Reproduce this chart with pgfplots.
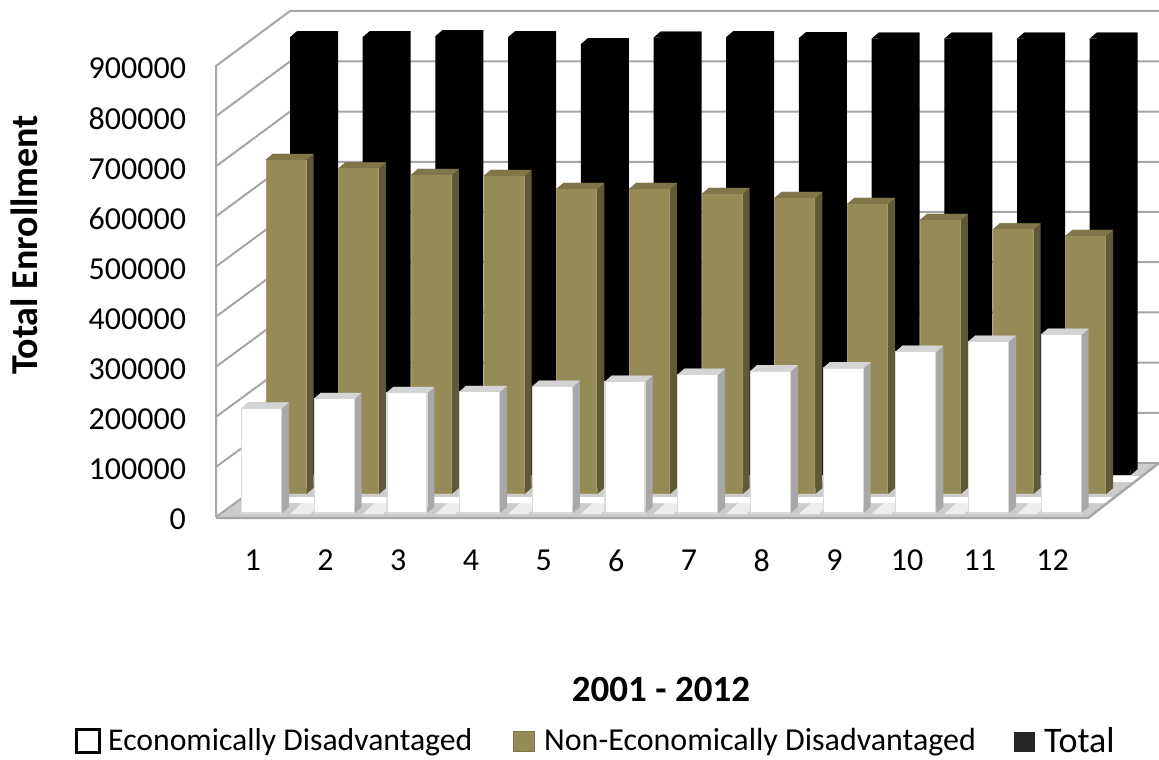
\documentclass[border=0pt]{standalone}
\usepackage{pgfplots}
\pgfplotsset{compat=1.18}
\usepackage{pgfplotstable}
\usepackage{fontspec}
\setmainfont{Carlito}
\definecolor{wallc}{HTML}{A6A6A6}
\definecolor{tanF}{HTML}{958B57}
\definecolor{tanL}{HTML}{A39A68}
\definecolor{tanS}{HTML}{5F5937}
\definecolor{tanT}{HTML}{7F774A}
\definecolor{whS}{HTML}{A8A8A8}
\definecolor{whT}{HTML}{D4D4D4}
\pgfdeclareplotmark{topface}{%
  \pgfpathmoveto{\pgfpoint{-20.5pt}{0pt}}%
  \pgfpathlineto{\pgfpoint{-13.5pt}{6pt}}%
  \pgfpathlineto{\pgfpoint{27.5pt}{6pt}}%
  \pgfpathlineto{\pgfpoint{20.5pt}{0pt}}%
  \pgfpathclose\pgfusepathqfill}
\pgfdeclareplotmark{baseface}{%
  \pgfpathmoveto{\pgfpoint{20.5pt}{0pt}}%
  \pgfpathlineto{\pgfpoint{27.5pt}{6pt}}%
  \pgfpathlineto{\pgfpoint{20.5pt}{6pt}}%
  \pgfpathclose\pgfusepathqfill}
\pgfplotstableread{
x y
1 209000
2 228000
3 240000
4 242000
5 252000
6 262000
7 276000
8 283000
9 289000
10 322000
11 342000
12 356000
}\econtab
\pgfplotstableread{
x y
1 667000
2 650000
3 637000
4 635000
5 609000
6 609000
7 599000
8 591000
9 579000
10 547000
11 528000
12 515000
}\nonecontab
\pgfplotstableread{
x y
1 874000
2 874000
3 876000
4 874000
5 860000
6 873000
7 874000
8 872000
9 871000
10 871000
11 871000
12 871000
}\totaltab
\pgfplotsset{
  barsaxis/.style={scale only axis,width=872.4pt,height=450.9pt,xmin=0.5,xmax=12.5,
    ymin=0,ymax=900000,axis line style={draw=none},tick style={draw=none},
    xtick=\empty,ytick=\empty,clip=false,anchor=south west},
}
\begin{document}
\begin{tikzpicture}[x=1pt,y=1pt]
\path[use as bounding box] (0,0) rectangle (1159,760);
% walls and floor, in picture pixels
\begin{axis}[scale only axis,width=1159pt,height=760pt,at={(0pt,0pt)},anchor=south west,
  xmin=0,xmax=1159,ymin=0,ymax=760,y dir=reverse,hide axis,clip=false]
\addplot[fill=black!20,draw=none] coordinates {(216,517) (1088,517) (1159,463) (290,463)} -- cycle;
\addplot[fill=white,draw=none] coordinates {(262,503) (1107,503) (1115,497) (270,497)} -- cycle;
\addplot[fill=white,draw=none] coordinates {(286,482) (1135,482) (1143,476) (294,476)} -- cycle;
\foreach \k in {0,...,10} {
  \pgfmathsetmacro{\xa}{290+72.7*\k}
  \pgfmathsetmacro{\xb}{\xa+20}
  \pgfmathsetmacro{\xc}{\xa+32}
  \pgfmathsetmacro{\xd}{\xa+12}
  \edef\temp{\noexpand\addplot[fill=black!7,draw=none] coordinates {(\xa,514) (\xb,514) (\xc,503) (\xd,503)} -- cycle;}
  \temp
}
\addplot[wallc,line width=2pt] coordinates {(216,517) (216,66) (290,11) (1159,11)};
\addplot[wallc,line width=2pt] coordinates {(216,517) (290,463)};
\addplot[wallc,line width=2.4pt] coordinates {(216,518) (1088,518) (1159,463)};
\addplot[wallc,line width=1.6pt] coordinates {(290,463) (1159,463)};
\foreach \k in {1,...,8} {
  \pgfmathsetmacro{\yf}{517-50.1*\k}
  \pgfmathsetmacro{\yb}{463-50.2*\k}
  \edef\temp{\noexpand\addplot[wallc,line width=2pt] coordinates {(216,\yf) (290,\yb) (1159,\yb)};}
  \temp
}
\end{axis}
% total (back row)
\begin{axis}[barsaxis,at={(274.15pt,285pt)}]
\addplot[ybar,bar width=41pt,bar shift=7pt,yshift=6pt,fill=black,draw=none] table[x=x,y=y] {\totaltab};
\addplot[only marks,mark=baseface,mark options={fill=black,draw=none}] table[x=x,y expr=0] {\totaltab};
\addplot[ybar,bar width=41pt,bar shift=0pt,fill=black,draw=none] table[x=x,y=y] {\totaltab};
\addplot[only marks,mark=topface,mark options={fill=black,draw=none}] table[x=x,y=y] {\totaltab};
\end{axis}
% non-economically disadvantaged (middle row)
\begin{axis}[barsaxis,at={(249.65pt,266pt)}]
\addplot[ybar,bar width=41pt,bar shift=7pt,yshift=6pt,fill=tanS,draw=none] table[x=x,y=y] {\nonecontab};
\addplot[only marks,mark=baseface,mark options={fill=tanS,draw=none}] table[x=x,y expr=0] {\nonecontab};
\addplot[ybar,bar width=40pt,bar shift=0pt,fill=tanF,draw=tanL,line width=1pt] table[x=x,y=y] {\nonecontab};
\addplot[only marks,mark=topface,mark options={fill=tanT,draw=none}] table[x=x,y=y] {\nonecontab};
\end{axis}
% economically disadvantaged (front row)
\begin{axis}[barsaxis,at={(225.15pt,247pt)}]
\addplot[ybar,bar width=41pt,bar shift=7pt,yshift=6pt,fill=whS,draw=none] table[x=x,y=y] {\econtab};
\addplot[only marks,mark=baseface,mark options={fill=whS,draw=none}] table[x=x,y expr=0] {\econtab};
\addplot[ybar,bar width=40pt,bar shift=0pt,fill=white,draw=black!14,line width=1.2pt] table[x=x,y=y] {\econtab};
\addplot[only marks,mark=topface,mark options={fill=whT,draw=none}] table[x=x,y=y] {\econtab};
\end{axis}
% axis labels
\begin{axis}[scale only axis,width=872.4pt,height=450.9pt,at={(216.5pt,240.5pt)},anchor=south west,
  xmin=0.5,xmax=12.5,ymin=0,ymax=900000,
  axis line style={draw=none},tick style={draw=none},
  major tick length=0pt,
  xtick={1,...,12},
  ytick={0,100000,...,900000},
  scaled y ticks=false,
  /pgf/number format/fixed,/pgf/number format/1000 sep={},
  /pgf/number format/assume math mode=true,
  tick label style={font=\fontsize{32}{34}\selectfont},
  yticklabel style={anchor=east,xshift=-27pt},
  xticklabel style={anchor=north,yshift=-27pt},
  xticklabel pos=lower,yticklabel pos=left]
\addplot[draw=none,forget plot] coordinates {(1,0)};
\end{axis}
\node[rotate=90,font=\bfseries\fontsize{38}{40}\selectfont] at (24,515) {Total Enrollment};
\node[font=\bfseries\fontsize{37}{39}\selectfont] at (661,71) {2001 - 2012};
% legend
\fill[white,draw=black,line width=3pt] (76.5,7) rectangle (99.5,30);
\fill[tanF,draw=tanT,line width=1pt] (513,8) rectangle (534,28);
\fill[black!85] (1014,8) rectangle (1035,28);
\node[anchor=west,inner sep=0pt,font=\fontsize{31.7}{34}\selectfont] at (108,18) {Economically Disadvantaged};
\node[anchor=west,inner sep=0pt,font=\fontsize{32}{34}\selectfont] at (544,18) {Non-Economically Disadvantaged};
\node[anchor=west,inner sep=0pt,font=\fontsize{36}{38}\selectfont] at (1044,19.5) {Total};
\end{tikzpicture}
\end{document}
